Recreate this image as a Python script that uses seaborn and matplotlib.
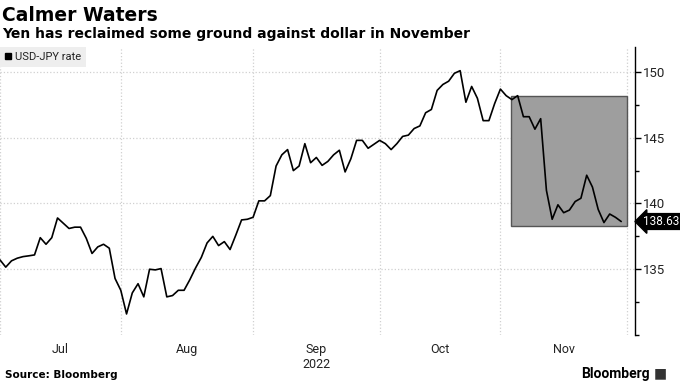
import numpy as np
import pandas as pd
import seaborn as sns
import matplotlib.pyplot as plt
from matplotlib.lines import Line2D
from matplotlib.patches import Rectangle
import matplotlib.transforms as mtransforms

# USD-JPY daily rate, business days Jul 1 - Nov 30 2022
dates = pd.bdate_range("2022-07-01", "2022-11-30")
rate = [135.71, 135.16, 135.64, 135.84, 135.96, 136.02, 136.09, 137.4, 136.9, 137.4,
        138.9, 138.5, 138.1, 138.2, 138.2, 137.35, 136.2, 136.7, 136.9, 136.6,
        134.3, 133.4, 131.6, 133.2, 133.9, 132.9, 135.0, 134.95, 135.05, 132.9,
        133.0, 133.4, 133.4, 134.2, 135.1, 135.9, 137.0, 137.5, 136.8, 137.1,
        136.5, 137.6, 138.75, 138.8, 138.95, 140.2, 140.2, 140.6, 142.85, 143.7,
        144.1, 142.5, 142.85, 144.55, 143.1, 143.5, 142.9, 143.2, 143.7, 144.05,
        142.4, 143.4, 144.8, 144.8, 144.2, 144.5, 144.8, 144.55, 144.1, 144.55,
        145.1, 145.2, 145.7, 145.9, 146.9, 147.15, 148.6, 149.05, 149.3, 149.9,
        150.1, 147.7, 148.9, 148.0, 146.3, 146.3, 147.6, 148.7, 148.2, 147.9,
        148.2, 146.6, 146.6, 145.65, 146.45, 141.0, 138.8, 139.9, 139.3, 139.5,
        140.15, 140.4, 142.15, 141.25, 139.55, 138.55, 139.2, 138.95, 138.63]

month_starts = ["2022-07-01", "2022-08-01", "2022-09-01", "2022-10-01", "2022-11-01", "2022-12-01"]
month_labels = ["Jul", "Aug", "Sep\n2022", "Oct", "Nov"]

# highlighted November range
box_start, box_end = "2022-11-03", "2022-12-01"
box_low, box_high = 138.3, 148.2

origin = np.datetime64("2022-07-01")
def bday(d):
    return np.busday_count(origin, np.array(d, dtype="datetime64[D]"))

df = pd.DataFrame({"bday": bday(dates.values.astype("datetime64[D]")), "rate": rate})
starts = bday(month_starts)
mids = (starts[:-1] + starts[1:]) / 2

sns.set_style("white")
plt.rcParams["font.family"] = ["DejaVu Sans"]
tick_font = "Roboto"

fig = plt.figure(figsize=(6.8, 3.83), dpi=100)
ax = fig.add_axes([0, 48 / 383, 635 / 680, 288 / 383])

x0, x1 = bday(box_start), bday(box_end)
ax.add_patch(Rectangle((x0 - 0.2, box_low), x1 - x0 + 0.2, box_high - box_low,
                       facecolor="#9e9e9e", edgecolor="#555555", lw=1, zorder=1))

sns.lineplot(data=df, x="bday", y="rate", color="black", lw=1.2, ax=ax, zorder=3)

ax.set_xlim(0, 110.4)
ax.set_ylim(130, 151.9)
ax.set_xlabel("")
ax.set_ylabel("")

ax.set_xticks(mids)
ax.set_xticklabels(month_labels, family=tick_font, fontsize=9, color="#222222")
ax.set_xticks(starts, minor=True)
ax.tick_params(axis="x", which="both", length=0, pad=6)

ax.yaxis.tick_right()
ax.set_yticks([135, 140, 145, 150])
ax.set_yticklabels(["135", "140", "145", "150"], family=tick_font, fontsize=9.5, color="#222222")
ax.set_yticks([130, 132.5, 137.5, 142.5, 147.5], minor=True)
ax.tick_params(axis="y", which="major", length=4, width=1, color="black", pad=2)
ax.tick_params(axis="y", which="minor", length=3, width=1, color="black")

ax.grid(False)
ax.grid(axis="y", which="major", color="#d0d0d0", ls=":", lw=0.9)
ax.grid(axis="x", which="minor", color="#d0d0d0", ls=":", lw=0.9)
for s in ["left", "top", "bottom"]:
    ax.spines[s].set_visible(False)
ax.spines["right"].set_color("black")
ax.spines["right"].set_linewidth(1)

handle = Line2D([0], [0], marker="s", color="black", ls="", markersize=5)
leg = ax.legend([handle], ["USD-JPY rate"], loc="upper left", bbox_to_anchor=(0, 1),
                borderaxespad=0, frameon=True, fancybox=False, facecolor="#eeeeee",
                edgecolor="none", framealpha=1, handlelength=0.6, handletextpad=0.3,
                borderpad=0.45, prop={"family": tick_font, "size": 8})
for t in leg.get_texts():
    t.set_color("#222222")

trans = mtransforms.blended_transform_factory(ax.transAxes, ax.transData)
ax.text(1.013, rate[-1], f"{rate[-1]:.2f}", transform=trans, va="center", ha="left",
        color="white", family=tick_font, fontsize=8.5, clip_on=False,
        bbox=dict(boxstyle="larrow,pad=0.12", facecolor="black", edgecolor="black"))

fig.text(0.003, 0.945, "Calmer Waters", fontsize=13.5, fontweight="bold", color="black",
         ha="left", va="baseline")
fig.text(0.003, 0.902, "Yen has reclaimed some ground against dollar in November",
         fontsize=10, fontweight="bold", color="black", ha="left", va="baseline")
fig.text(0.007, 0.012, "Source: Bloomberg", fontsize=7.5, fontweight="bold", color="black",
         ha="left", va="baseline")
fig.text(0.955, 0.012, "Bloomberg", fontsize=10, family=tick_font, fontweight="bold",
         color="black", ha="right", va="baseline")
fig.text(0.962, 0.014, "\u25a0", fontsize=10, color="#333333", ha="left", va="baseline")

fig.savefig("out.png", dpi=100)
